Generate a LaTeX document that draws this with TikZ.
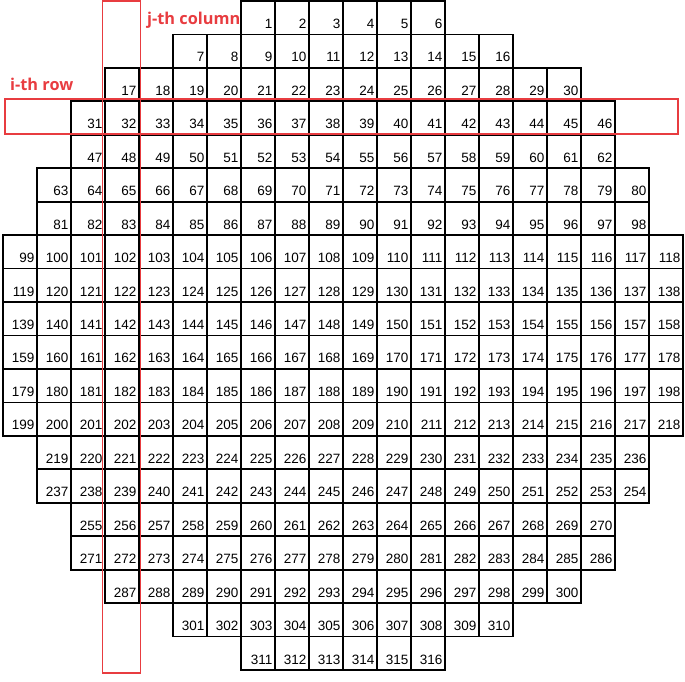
\documentclass[tikz,border=0pt]{standalone}
\usepackage{fontspec}
\setmainfont{Liberation Sans}
\newfontfamily\labfont{Open Sans}
\definecolor{hl}{RGB}{232,60,64}
\begin{document}
\begin{tikzpicture}[x=1pt,y=1pt,
  cellbox/.style={draw=black, line width=1.8pt, minimum width=34pt, minimum height=33.45pt, inner sep=0pt, outer sep=0pt},
  num/.style={anchor=base east, inner sep=0pt, font=\fontsize{13.5}{13.5}\selectfont},
  hlbox/.style={draw=hl, line width=1.9pt},
  hltext/.style={text=hl, anchor=base west, inner sep=0pt, font=\labfont\bfseries\fontsize{16.3}{17}\selectfont}]
\useasboundingbox (0,0) rectangle (685,681);
\foreach \r/\sc/\cnt/\first in {0/7/6/1, 1/5/10/7, 2/3/14/17, 3/2/16/31, 4/2/16/47, 5/1/18/63, 6/1/18/81,
  7/0/20/99, 8/0/20/119, 9/0/20/139, 10/0/20/159, 11/0/20/179, 12/0/20/199,
  13/1/18/219, 14/1/18/237, 15/2/16/255, 16/2/16/271, 17/3/14/287, 18/5/10/301, 19/7/6/311} {
  \pgfmathtruncatemacro\last{\cnt-1}
  \foreach \k in {0,...,\last} {
    \pgfmathtruncatemacro\n{\first+\k}
    \pgfmathsetmacro\cx{3+34*(\sc+\k)+17}
    \pgfmathsetmacro\cy{681-(1+33.45*\r+16.725)}
    \node[cellbox] (cell\n) at (\cx,\cy) {};
    \node[num] (lab\n) at ([xshift=-2.5pt,yshift=6pt]cell\n.south east) {\n};
  }
}
\coordinate (vA) at (102.5,8.3);
\coordinate (vB) at (140.5,680.3);
\coordinate (hA) at (5,546.7);
\coordinate (hB) at (678,581.7);
\draw[hlbox] (vA) rectangle (vB);
\draw[hlbox] (hA) rectangle (hB);
\node[hltext] (jcol) at (147,656) {j-th column};
\node[hltext] (irow) at (10,590.3) {i-th row};
\end{tikzpicture}
\end{document}
